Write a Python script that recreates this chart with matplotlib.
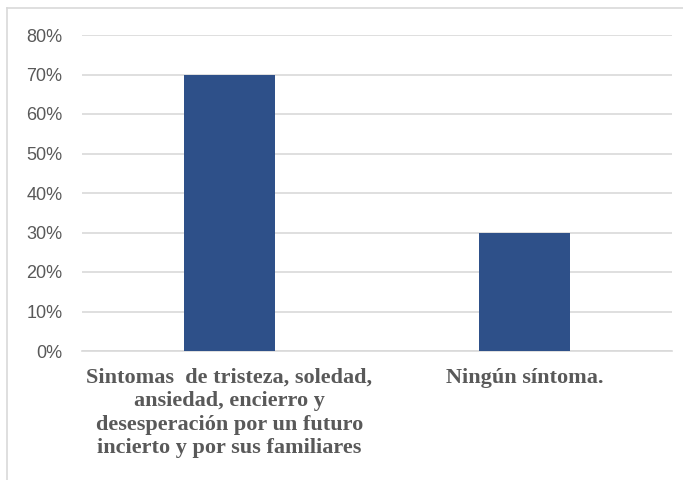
import matplotlib
matplotlib.use("Agg")
import matplotlib.pyplot as plt
from matplotlib.lines import Line2D
from matplotlib.ticker import PercentFormatter

categories = [
    "Sintomas  de tristeza, soledad,\nansiedad, encierro y\ndesesperación por un futuro\nincierto y por sus familiares",
    "Ningún síntoma.",
]
values = [0.70, 0.30]
y_ticks = [0.0, 0.1, 0.2, 0.3, 0.4, 0.5, 0.6, 0.7, 0.8]

bar_color = "#2E5089"
text_gray = "#595959"
grid_gray = "#D9D9D9"

fig = plt.figure(figsize=(6.83, 4.80), dpi=100)
ax = fig.add_axes([82 / 683, 1 - 351 / 480, 590 / 683, 316 / 480])

x = range(len(categories))
ax.bar(x, values, width=0.31, color=bar_color, zorder=3)

ax.set_xlim(-0.5, len(categories) - 0.5)
ax.set_ylim(0, 0.8)
ax.set_yticks(y_ticks)
ax.yaxis.set_major_formatter(PercentFormatter(1.0, decimals=0))
ax.grid(axis="y", color=grid_gray, linewidth=1.2, zorder=0)

for s in ["top", "right", "left"]:
    ax.spines[s].set_visible(False)
ax.spines["bottom"].set_color(grid_gray)
ax.spines["bottom"].set_linewidth(1.2)

ax.tick_params(axis="both", length=0)
ax.tick_params(axis="y", pad=14, labelsize=13, labelcolor=text_gray)
for lbl in ax.get_yticklabels():
    lbl.set_family("Liberation Sans")

ax.set_xticks(list(x))
ax.set_xticklabels(categories, family="Liberation Serif", fontweight="bold",
                   fontsize=16, color=text_gray, linespacing=1.24)
ax.tick_params(axis="x", pad=12)

# chart frame (top and left edges)
fig.add_artist(Line2D([7 / 683, 1], [1 - 8 / 480, 1 - 8 / 480],
                      transform=fig.transFigure, color="#D9D9D9", linewidth=1.2))
fig.add_artist(Line2D([7 / 683, 7 / 683], [0, 1 - 8 / 480],
                      transform=fig.transFigure, color="#D9D9D9", linewidth=1.2))

fig.savefig("out.png", dpi=100)
